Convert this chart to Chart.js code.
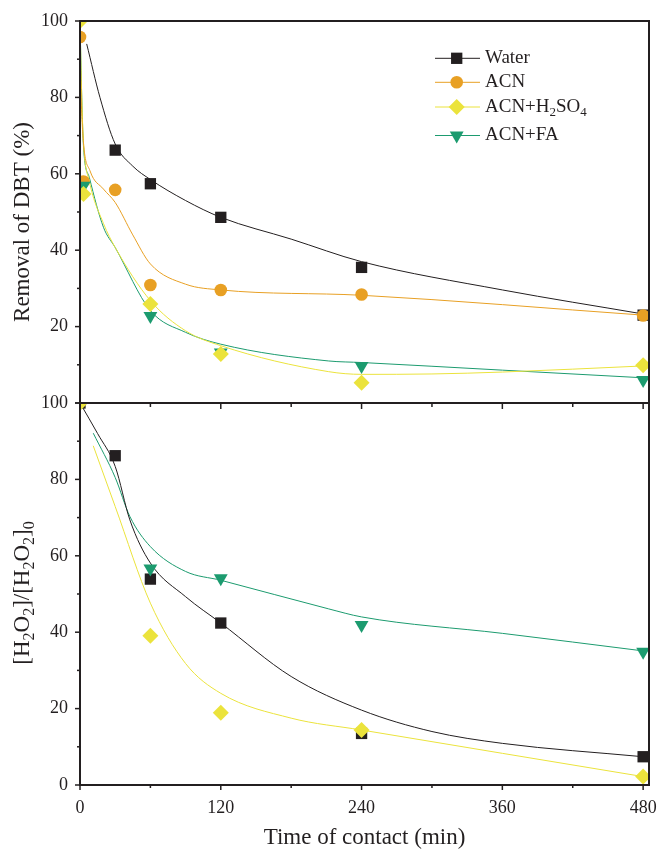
<!DOCTYPE html>
<html>
<head>
<meta charset="utf-8">
<script src="https://cdn.jsdelivr.net/npm/chart.js@4/dist/chart.umd.min.js"></script>
<style>
  html, body { margin: 0; padding: 0; background: #fff; }
  #wrap { position: relative; width: 657px; height: 849px; }
  canvas { position: absolute; left: 0; top: 0; }
</style>
</head>
<body>
<div id="wrap">
  <canvas id="topChart" width="657" height="849"></canvas>
  <canvas id="bottomChart" width="657" height="849"></canvas>
</div>
<script>
// axis ticks
const xMax = 485;
const xTicks = [0, 120, 240, 360, 480];
const xMinor = [60, 180, 300, 420];
const yTicks = [0, 20, 40, 60, 80, 100];
const yMinor = [10, 30, 50, 70, 90];

// top panel : removal of DBT (%)
const topWaterT = [30, 60, 120, 240, 480];
const topWaterY = [66.2, 57.4, 48.6, 35.5, 23.0];
const topAcnT = [0, 3, 30, 60, 120, 240, 480];
const topAcnY = [95.8, 58.0, 55.8, 30.9, 29.6, 28.4, 22.9];
const topAcidT = [0, 3, 60, 120, 240, 480];
const topAcidY = [100, 54.7, 25.9, 12.8, 5.3, 9.9];
const topFaT = [0, 3, 60, 120, 240, 480];
const topFaY = [100, 56.9, 22.8, 13.2, 9.7, 6.0];

// fitted curves of the top panel
const topWaterFitT = [5.7, 17, 30, 45, 60, 90, 120, 180, 240, 360, 480];
const topWaterFitY = [94, 80, 67.8, 62, 58.5, 53, 48.6, 42.9, 37, 29.6, 23.3];
const topAcnFitT = [0, 1, 2.8, 8.5, 20, 30, 45, 60, 90, 120, 240, 480];
const topAcnFitY = [95, 80, 68.7, 60.8, 56, 52.5, 44, 36.4, 31.1, 29.6, 28.2, 23];
const topAcidFitT = [0, 1.5, 3, 8, 20, 30, 60, 90, 120, 212, 240, 300, 360, 480];
const topAcidFitY = [100, 80, 68, 58, 47, 40.7, 26.8, 18.9, 15, 8.2, 7.5, 7.6, 8.1, 9.7];
const topFaFitT = [0, 1.5, 3, 8, 20, 30, 60, 90, 120, 212, 240, 360, 480];
const topFaFitY = [100, 80, 67, 59, 46, 40.7, 24.2, 18.5, 15.4, 11, 10.6, 8.6, 6.6];

// bottom panel : [H2O2]/[H2O2]0
const botWaterT = [0, 30, 60, 120, 240, 480];
const botWaterY = [100, 86.2, 53.9, 42.4, 13.5, 7.4];
const botAcidT = [0, 60, 120, 240, 480];
const botAcidY = [100, 39.1, 18.9, 14.4, 2.2];
const botFaT = [0, 60, 120, 240, 480];
const botFaY = [100, 56.7, 54.1, 41.9, 34.9];

const botWaterFitT = [0, 15, 30, 42.5, 60, 90, 120, 180, 240, 300, 360, 480];
const botWaterFitY = [100, 92, 83.4, 69.4, 58.1, 49.3, 42.4, 28.4, 19.6, 14, 10.9, 7.4];
const botAcidFitT = [11.3, 30, 60, 90, 120, 180, 240, 480];
const botAcidFitY = [88.8, 72.9, 47.6, 31.8, 24, 17.5, 14.4, 2.2];
const botFaFitT = [11.3, 30, 42.5, 60, 90, 120, 212, 240, 360, 480];
const botFaFitY = [92.1, 80.5, 70.3, 62.4, 55.9, 53.6, 46.1, 44, 39.7, 35.1];

const ink = '#231f20';
const serif = '"Liberation Serif", "Times New Roman", serif';
const black = '#231f20', orange = '#e8a024', yellow = '#ebe33c', green = '#1c9b6f';

// marker look for each series
const styles = {
  water: { pointStyle: 'rect', radius: 8, rotation: 0, color: black },
  acn: { pointStyle: 'circle', radius: 6.3, rotation: 0, color: orange },
  acid: { pointStyle: 'rectRot', radius: 8, rotation: 0, color: yellow },
  fa: { pointStyle: 'triangle', radius: 8, rotation: 180, color: green },
};

const toPts = (t, y) => t.map((x, i) => ({ x: x, y: y[i] }));

function markers(s, t, y, order) {
  return {
    data: toPts(t, y), showLine: false, pointStyle: s.pointStyle, pointRadius: s.radius,
    pointRotation: s.rotation, pointBackgroundColor: s.color, pointBorderWidth: 0,
    borderColor: s.color, clip: 0, order: order,
  };
}
function fitCurve(t, y, color) {
  return {
    data: toPts(t, y), borderColor: color, borderWidth: 1, pointRadius: 0,
    cubicInterpolationMode: 'monotone', fill: false, clip: 0, order: 10,
  };
}

// text with subscripts: parts = [[text, isSub], ...]
function richText(ctx, parts, x, y, size, align) {
  const subSize = Math.round(size * 0.68);
  let w = 0;
  parts.forEach(p => { ctx.font = (p[1] ? subSize : size) + 'px ' + serif; w += ctx.measureText(p[0]).width; });
  let cx = align === 'center' ? x - w / 2 : x;
  ctx.textAlign = 'left';
  ctx.textBaseline = 'middle';
  parts.forEach(p => {
    ctx.font = (p[1] ? subSize : size) + 'px ' + serif;
    ctx.fillText(p[0], cx, p[1] ? y + size * 0.28 : y);
    cx += ctx.measureText(p[0]).width;
  });
}

function seg(ctx, x1, y1, x2, y2) {
  ctx.beginPath(); ctx.moveTo(x1, y1); ctx.lineTo(x2, y2); ctx.stroke();
}

const legendItems = [
  { s: styles.water, parts: [['Water', 0]], y: 58.3 },
  { s: styles.acn, parts: [['ACN', 0]], y: 82.3 },
  { s: styles.acid, parts: [['ACN+H', 0], ['2', 1], ['SO', 0], ['4', 1]], y: 107 },
  { s: styles.fa, parts: [['ACN+FA', 0]], y: 135.5 },
];

const framePlugin = {
  id: 'frame',
  afterDatasetsDraw(chart, args, o) {
    const ctx = chart.ctx, a = chart.chartArea;
    const xs = chart.scales.x, ys = chart.scales.y;
    ctx.save();
    ctx.strokeStyle = ink;
    ctx.fillStyle = ink;
    ctx.lineWidth = 2;
    ctx.strokeRect(a.left, a.top, a.right - a.left, a.bottom - a.top);
    ctx.lineWidth = 1.5;
    yTicks.forEach(v => { const p = ys.getPixelForValue(v); seg(ctx, a.left, p, a.left - 5, p); });
    yMinor.forEach(v => { const p = ys.getPixelForValue(v); seg(ctx, a.left, p, a.left - 3, p); });
    if (o.xTicks) {
      xTicks.forEach(v => {
        const p = xs.getPixelForValue(v);
        seg(ctx, p, a.top, p, a.top + 6);
        seg(ctx, p, a.bottom, p, a.bottom + 5);
      });
      xMinor.forEach(v => {
        const p = xs.getPixelForValue(v);
        seg(ctx, p, a.top, p, a.top + 4);
        seg(ctx, p, a.bottom, p, a.bottom + 3);
      });
      ctx.font = '23px ' + serif;
      ctx.textAlign = 'center';
      ctx.textBaseline = 'middle';
      ctx.fillText('Time of contact (min)', (a.left + a.right) / 2, 838);
    }
    // y axis title, rotated
    ctx.save();
    ctx.translate(23, o.titleY);
    ctx.rotate(-Math.PI / 2);
    richText(ctx, o.title, 0, 0, 23, 'center');
    ctx.restore();

    if (o.legend) {
      legendItems.forEach(it => {
        ctx.strokeStyle = it.s.color;
        ctx.lineWidth = 1;
        seg(ctx, 435, it.y, 480, it.y);
        ctx.fillStyle = it.s.color;
        Chart.helpers.drawPoint(ctx, { pointStyle: it.s.pointStyle, rotation: it.s.rotation, radius: it.s.radius, borderWidth: 0 }, 456.7, it.y);
        ctx.fillStyle = ink;
        richText(ctx, it.parts, 485, it.y, 19, 'left');
      });
    }
    ctx.restore();
  }
};

const tickFont = { family: serif, size: 18 };

function yAxis(hideZero) {
  return {
    min: 0, max: 100,
    afterFit: s => { s.width = 80; s.paddingTop = 0; s.paddingBottom = 0; },
    afterBuildTicks: s => { s.ticks = yTicks.map(v => ({ value: v })); },
    grid: { display: false, drawTicks: false },
    border: { display: false },
    ticks: {
      font: tickFont, color: ink, padding: 12,
      callback: v => (hideZero && v === 0) ? '' : v,
    },
  };
}

Chart.defaults.devicePixelRatio = 1;

new Chart(document.getElementById('topChart'), {
  type: 'line',
  data: {
    datasets: [
      fitCurve(topWaterFitT, topWaterFitY, black),
      fitCurve(topAcnFitT, topAcnFitY, orange),
      fitCurve(topAcidFitT, topAcidFitY, yellow),
      fitCurve(topFaFitT, topFaFitY, green),
      markers(styles.water, topWaterT, topWaterY, 4),
      markers(styles.acn, topAcnT, topAcnY, 3),
      markers(styles.fa, topFaT, topFaY, 2),
      markers(styles.acid, topAcidT, topAcidY, 1),
    ],
  },
  options: {
    responsive: false,
    animation: false,
    events: [],
    layout: { padding: { top: 21, right: 6, bottom: 446, left: 0 } },
    scales: {
      x: { type: 'linear', min: 0, max: xMax, display: false },
      y: yAxis(true),
    },
    plugins: {
      legend: { display: false },
      tooltip: { enabled: false },
      frame: { xTicks: false, legend: true, titleY: 222, title: [['Removal of DBT (%)', 0]] },
    },
  },
  plugins: [framePlugin],
});

new Chart(document.getElementById('bottomChart'), {
  type: 'line',
  data: {
    datasets: [
      fitCurve(botWaterFitT, botWaterFitY, black),
      fitCurve(botAcidFitT, botAcidFitY, yellow),
      fitCurve(botFaFitT, botFaFitY, green),
      markers(styles.water, botWaterT, botWaterY, 3),
      markers(styles.fa, botFaT, botFaY, 2),
      markers(styles.acid, botAcidT, botAcidY, 1),
    ],
  },
  options: {
    responsive: false,
    animation: false,
    events: [],
    layout: { padding: { top: 403, right: 6, bottom: 0, left: 0 } },
    scales: {
      x: {
        type: 'linear', min: 0, max: xMax,
        afterFit: s => { s.height = 64; s.paddingLeft = 0; s.paddingRight = 0; },
        afterBuildTicks: s => { s.ticks = xTicks.map(v => ({ value: v })); },
        grid: { display: false, drawTicks: false },
        border: { display: false },
        ticks: { font: tickFont, color: ink, padding: 12, maxRotation: 0, autoSkip: false },
      },
      y: yAxis(false),
    },
    plugins: {
      legend: { display: false },
      tooltip: { enabled: false },
      frame: {
        xTicks: true, legend: false, titleY: 593,
        title: [['[H', 0], ['2', 1], ['O', 0], ['2', 1], [']/[H', 0], ['2', 1], ['O', 0], ['2', 1], [']', 0], ['0', 1]],
      },
    },
  },
  plugins: [framePlugin],
});
</script>
</body>
</html>
